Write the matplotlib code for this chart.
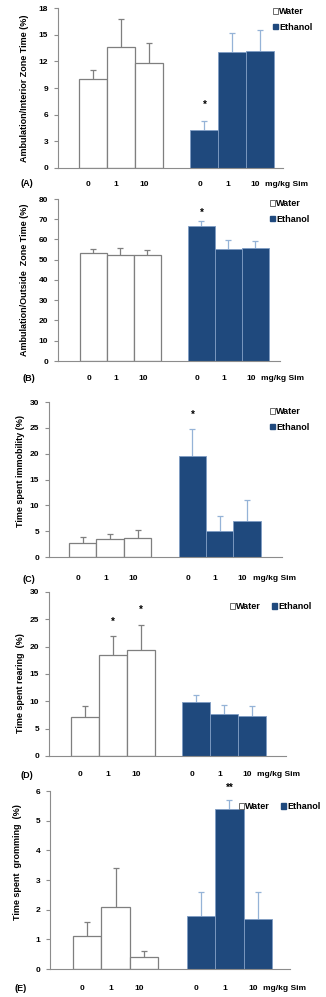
import matplotlib.pyplot as plt
from matplotlib.patches import Patch

plt.rcParams["font.family"] = ["Liberation Sans", "DejaVu Sans"]
plt.rcParams["font.weight"] = "bold"

# -----------------------------
# Data (mean and upper SEM)
# -----------------------------
doses = ["0", "1", "10"]
groups = ["Water", "Ethanol"]

a_water = [10.0, 13.6, 11.8]
a_water_err = [1.0, 3.2, 2.3]
a_ethanol = [4.3, 13.1, 13.2]
a_ethanol_err = [1.0, 2.1, 2.3]

b_water = [53.3, 52.3, 52.3]
b_water_err = [2.0, 3.6, 2.7]
b_ethanol = [66.8, 55.4, 55.9]
b_ethanol_err = [2.3, 4.5, 3.5]

c_water = [2.7, 3.5, 3.6]
c_water_err = [1.1, 0.9, 1.7]
c_ethanol = [19.5, 5.0, 7.0]
c_ethanol_err = [5.2, 2.9, 4.1]

d_water = [7.2, 18.4, 19.3]
d_water_err = [2.0, 3.6, 4.6]
d_ethanol = [9.9, 7.6, 7.4]
d_ethanol_err = [1.2, 1.7, 1.8]

e_water = [1.1, 2.1, 0.4]
e_water_err = [0.5, 1.3, 0.2]
e_ethanol = [1.8, 5.4, 1.7]
e_ethanol_err = [0.8, 0.3, 0.9]

W, H = 326, 997
NAVY = "#1f497d"

fig = plt.figure(figsize=(W / 100, H / 100), dpi=100)


def fig_xy(x, y):
    return x / W, 1 - y / H


def panel(box, xlim, ylim, yticks, water, water_err, ethanol, ethanol_err,
          ylabel, ylab_pos, letter, letter_pos, stars, legend_pos, one_row=False,
          lab_drop=19):
    x0, x1, ytop, yzero = box
    ax = fig.add_axes([x0 / W, 1 - yzero / H, (x1 - x0) / W, (yzero - ytop) / H])

    xw = [0, 1, 2]
    xe = [4, 5, 6]
    bw = ax.bar(xw, water, width=1.0, color="white", edgecolor="#7f7f7f",
                linewidth=0.9, label=groups[0], zorder=2)
    be = ax.bar(xe, ethanol, width=1.0, color=NAVY, edgecolor="#7f9cc4",
                linewidth=0.6, label=groups[1], zorder=2)

    for xs, m, e, col in [(xw, water, water_err, "#7f7f7f"),
                          (xe, ethanol, ethanol_err, "#95b3d7")]:
        _, caps, _ = ax.errorbar(xs, m, yerr=[[0] * len(e), e], fmt="none",
                                 ecolor=col, elinewidth=0.9, capsize=2,
                                 capthick=0.9, zorder=1)
        caps[0].set_visible(False)

    # significance marks
    for grp, i, mark, off in stars:
        if grp == "w":
            xs, top = xw[i], water[i] + water_err[i]
        else:
            xs, top = xe[i], ethanol[i] + ethanol_err[i]
        ax.annotate(mark, (xs, top), xytext=(0, off), textcoords="offset pixels",
                    ha="center", va="center", fontsize=7, annotation_clip=False)

    ax.set_xlim(*xlim)
    ax.set_ylim(*ylim)
    ax.set_yticks(yticks)
    ax.set_xticks([])
    ax.tick_params(axis="y", length=3, width=0.8, color="#8c8c8c",
                   labelsize=6, pad=4)
    for s in ["top", "right"]:
        ax.spines[s].set_visible(False)
    for s in ["left", "bottom"]:
        ax.spines[s].set_color("#8c8c8c")
        ax.spines[s].set_linewidth(0.8)
    ax.patch.set_alpha(0)

    # dose labels under the groups
    for xs in (xw, xe):
        for x, d in zip(xs, doses):
            ax.annotate(d, (x - 0.17, 0), xycoords=("data", "axes fraction"),
                        xytext=(0, -lab_drop), textcoords="offset pixels",
                        ha="center", va="center", fontsize=6)
    ax.annotate("mg/kg Sim", (xe[-1] - 0.17, 0), xycoords=("data", "axes fraction"),
                xytext=(10, -lab_drop), textcoords="offset pixels",
                ha="left", va="center", fontsize=6)

    fig.text(*fig_xy(*ylab_pos), ylabel, rotation=90, ha="center", va="center",
             fontsize=6.5)
    fig.text(*fig_xy(*letter_pos), letter, ha="center", va="center", fontsize=6.5)

    handles = [Patch(facecolor="white", edgecolor="#555555", linewidth=0.6),
               Patch(facecolor=NAVY, edgecolor=NAVY)]
    ax.legend(handles, groups, loc="upper left",
              bbox_to_anchor=fig_xy(*legend_pos), bbox_transform=fig.transFigure,
              frameon=False, fontsize=6.5, handlelength=0.55, handleheight=0.55,
              handletextpad=0.15, borderpad=0, borderaxespad=0,
              labelspacing=0.75, ncol=2 if one_row else 1, columnspacing=1.2)
    return ax


# -----------------------------
# (A) Interior zone
# -----------------------------
panel((58, 283, 8, 168), (-1.25, 6.82), (0, 18), range(0, 19, 3),
      a_water, a_water_err, a_ethanol, a_ethanol_err,
      "Ambulation/Interior Zone Time (%)", (25, 88), "(A)", (27, 183),
      [("e", 0, "*", 16)], (273, 7), lab_drop=16)

# -----------------------------
# (B) Outside zone
# -----------------------------
panel((58, 280, 199, 361), (-1.31, 6.91), (0, 80), range(0, 81, 10),
      b_water, b_water_err, b_ethanol, b_ethanol_err,
      "Ambulation/Outside  Zone Time (%)", (25, 280), "(B)", (29, 378),
      [("e", 0, "*", 8)], (270, 199), lab_drop=17)

# -----------------------------
# (C) Immobility
# -----------------------------
panel((49, 282, 402, 557), (-1.23, 7.27), (0, 30), range(0, 31, 5),
      c_water, c_water_err, c_ethanol, c_ethanol_err,
      "Time spent immobility (%)", (21, 471), "(C)", (29, 579),
      [("e", 0, "*", 15)], (270, 407), lab_drop=22)

# -----------------------------
# (D) Rearing
# -----------------------------
panel((49, 286, 592, 756), (-1.29, 7.22), (0, 30), range(0, 31, 5),
      d_water, d_water_err, d_ethanol, d_ethanol_err,
      "Time spent rearing  (%)", (21, 683), "(D)", (27, 775),
      [("w", 1, "*", 14), ("w", 2, "*", 16)], (230, 602), one_row=True)

# -----------------------------
# (E) Grooming
# -----------------------------
panel((50, 290, 791, 969), (-1.31, 7.13), (0, 6), range(0, 7, 1),
      e_water, e_water_err, e_ethanol, e_ethanol_err,
      "Time spent  gromming  (%)", (18, 862), "(E)", (21, 988),
      [("e", 1, "**", 12)], (239, 802), one_row=True)

fig.savefig("out.png", dpi=100)
